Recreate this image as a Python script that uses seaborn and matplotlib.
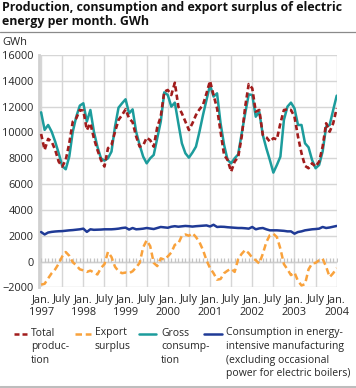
import numpy as np
import pandas as pd
import matplotlib.pyplot as plt
import seaborn as sns
from matplotlib.lines import Line2D

# Monthly values, Jan 1997 .. Jan 2004 (GWh)
total_production = [
    9880, 8650, 9500, 9290, 8650, 7740, 7360, 7870, 9160, 10840, 11100, 11740,    # 1997
    11690, 10190, 10710, 9550, 8650, 7870, 7360, 8780, 9030, 10060, 10970, 11350,  # 1998
    11790, 11100, 10800, 9700, 8900, 9000, 9600, 9400, 8900, 10400, 11230, 13160,  # 1999
    13290, 12900, 13850, 12000, 11480, 10840, 10190, 10710, 11350, 11790, 12130, 13030,  # 2000
    13990, 12900, 11870, 10060, 8260, 7870, 6970, 7740, 8100, 9680, 12000, 13750,  # 2001
    13420, 11610, 11740, 9810, 9630, 9290, 9550, 9470, 10710, 11740, 11790, 11740,  # 2002
    11230, 9680, 8390, 7410, 7230, 7610, 7360, 7740, 8900, 10710, 10060, 10710,  # 2003
    11870,  # 2004
]
export_surplus = [
    -1790, -1720, -1300, -900, -600, -160, 400, 740, 450, -50, -290, -600,
    -680, -800, -700, -850, -1000, -500, -200, 750, 350, -400, -750, -900,
    -850, -900, -750, -450, -100, 1100, 1650, 1200, -100, -350, 250, 150,
    400, 700, 1300, 1400, 2000, 2100, 2000, 2200, 1900, 1500, 900, 100,
    -500, -900, -1400, -1350, -900, -700, -550, -800, 200, 600, 900, 650,
    300, 100, -150, 600, 1500, 2050, 2150, 1900, 1000, -200, -600, -1050,
    -850, -1500, -1850, -1750, -600, -150, -100, 100, 220, -400, -1200, -900,
    -500,
]
gross_consumption = [
    11560, 10200, 10580, 10060, 9290, 8390, 7400, 7150, 8130, 10060, 11230, 12080,
    12260, 10840, 11740, 10060, 8900, 8000, 7820, 8000, 8520, 10450, 11920, 12260,
    12570, 11480, 11790, 10060, 9030, 8130, 7610, 8000, 8260, 9550, 10840, 13110,
    12900, 12000, 12310, 10710, 9160, 8390, 8050, 8440, 8900, 10060, 11350, 12520,
    13680, 12780, 13030, 10710, 9030, 7870, 7610, 8000, 8300, 9930, 11480, 12950,
    12900, 11220, 11610, 9810, 8780, 7870, 6890, 7480, 8130, 10970, 12000, 12310,
    11870, 10580, 10580, 9160, 8850, 7870, 7230, 7480, 8520, 10450, 10580, 11740,
    12850,
]
energy_intensive = [
    2290, 2100, 2250, 2300, 2330, 2350, 2360, 2390, 2420, 2440, 2470, 2500,
    2550, 2300, 2500, 2460, 2470, 2480, 2500, 2500, 2500, 2520, 2550, 2600,
    2630, 2480, 2600, 2500, 2520, 2550, 2600, 2560, 2520, 2600, 2680, 2650,
    2620, 2700, 2740, 2700, 2730, 2760, 2740, 2710, 2740, 2760, 2780, 2800,
    2720, 2850, 2680, 2700, 2690, 2660, 2640, 2620, 2600, 2600, 2580, 2550,
    2680, 2500, 2570, 2600, 2500, 2420, 2420, 2420, 2400, 2380, 2340, 2340,
    2160, 2290, 2340, 2420, 2460, 2500, 2520, 2550, 2680, 2600, 2640, 2700,
    2760,
]
years = ["1997", "1998", "1999", "2000", "2001", "2002", "2003", "2004"]
tick_labels = []
for y in years:
    tick_labels.append("Jan.\n" + y)
    tick_labels.append("July")
tick_labels = tick_labels[:-1]

series_names = ["Total\nproduc-\ntion", "Export\nsurplus", "Gross\nconsump-\ntion",
                "Consumption in energy-\nintensive manufacturing\n(excluding occasional\npower for electric boilers)"]

months = np.arange(len(total_production))
df = pd.DataFrame({"month": months,
                   "total": total_production,
                   "export": export_surplus,
                   "gross": gross_consumption,
                   "energy": energy_intensive})

sns.set_theme(style="white")
plt.rcParams["font.family"] = ["Open Sans", "DejaVu Sans"]

W, H = 356, 388
fig = plt.figure(figsize=(W / 100, H / 100), dpi=100)
ax = fig.add_axes([39 / W, (H - 287.4) / H, 297.7 / W, (287.4 - 55) / H])

RED = "#a11c1c"
ORANGE = "#f9a23c"
TEAL = "#1c9c9c"
NAVY = "#1f3a96"

# zero line with small monthly ticks
ax.axhline(0, color="#cfcfcf", lw=1, zorder=1)
ax.plot(months, np.zeros(len(months)), ls="none", marker=2, ms=3, mew=0.9,
        color="#c4c4c4", zorder=1)

sns.lineplot(data=df, x="month", y="energy", ax=ax, color=NAVY, lw=1.8, zorder=3)
sns.lineplot(data=df, x="month", y="export", ax=ax, color=ORANGE, lw=1.8, zorder=3)
ax.lines[-1].set_dashes((2.6, 1.5))
sns.lineplot(data=df, x="month", y="gross", ax=ax, color=TEAL, lw=1.8, zorder=4)
sns.lineplot(data=df, x="month", y="total", ax=ax, color=RED, lw=1.9, zorder=5)
ax.lines[-1].set_dashes((2.0, 1.2))

ax.set_xlim(-0.6, 84)
ax.set_ylim(-2000, 16000)
ax.set_yticks(range(-2000, 16001, 2000))
ax.set_xticks(range(0, 85, 6))
ax.set_xticklabels(tick_labels, fontsize=7.9, linespacing=1.2)
ax.tick_params(axis="y", labelsize=7.9, length=0, pad=4)
ax.tick_params(axis="x", length=0, pad=5)
ax.set_xlabel("")
ax.set_ylabel("")
ax.grid(True, color="#d6d6d6", lw=1)
for side in ["top", "right", "bottom"]:
    ax.spines[side].set_visible(False)
ax.spines["left"].set_color("#d0d0d0")
ax.spines["left"].set_linewidth(2)

fig.text(2 / W, 1 - 1 / H,
         "Production, consumption and export surplus of electric\nenergy per month. GWh",
         ha="left", va="top", fontsize=8.9, weight="bold", linespacing=1.15, color="#111111")
fig.add_artist(Line2D([0, 1], [1 - 32 / H] * 2, color="#8a8a8a", lw=0.9,
                      transform=fig.transFigure))
fig.text(2 / W, 1 - 37 / H, "GWh", ha="left", va="top", fontsize=7.9)

# legend, drawn by hand so the handles sit on the first text line
colors = [RED, ORANGE, TEAL, NAVY]
dash_styles = [(2.0, 1.2), (2.6, 1.5), None, None]
handle_x = [(14, 30), (75, 91), (139, 156), (204, 222)]
text_x = [31, 95, 161, 226]
y_line = 333.5
for i in range(4):
    ln = Line2D([handle_x[i][0] / W, handle_x[i][1] / W], [1 - y_line / H] * 2,
                color=colors[i], lw=1.8, transform=fig.transFigure)
    if dash_styles[i]:
        ln.set_dashes(dash_styles[i])
    fig.add_artist(ln)
    fig.text(text_x[i] / W, 1 - 327.5 / H, series_names[i], ha="left", va="top",
             fontsize=7.5, linespacing=1.32)

fig.add_artist(Line2D([0, 1], [1 - 386.5 / H] * 2, color="#bdbdbd", lw=2.2,
                      transform=fig.transFigure))

fig.savefig("out.png", dpi=100)
